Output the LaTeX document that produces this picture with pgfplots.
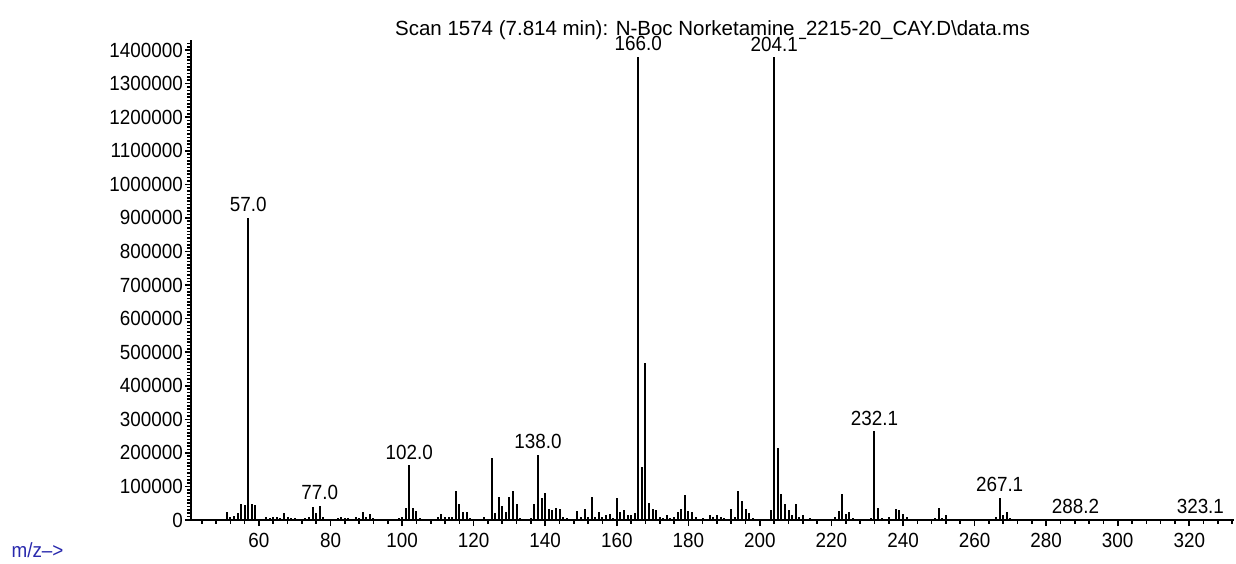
\documentclass[border=0pt]{standalone}
\usepackage{fontspec}
\setmainfont{Liberation Sans}[FakeStretch=0.92]
\newfontfamily\titlefont{Liberation Sans}
\usepackage{pgfplots}
\pgfplotsset{compat=1.18}
\definecolor{mzblue}{rgb}{0.16,0.16,0.68}

\pgfplotstableread{
mz int
51 25000
52 8000
53 13000
54 20000
55 47000
56 44000
57 900000
58 47000
59 45000
62 8000
63 6000
64 10000
65 8000
66 6000
67 20000
68 8000
69 6000
70 6000
73 5000
74 8000
75 38000
76 20000
77 42000
78 8000
82 6000
83 8000
84 6000
85 6000
86 4000
87 8000
88 6000
89 23000
90 10000
91 19000
92 6000
99 5000
100 8000
101 37000
102 163000
103 37000
104 28000
105 6000
107 4000
108 4000
110 8000
111 18000
112 8000
113 8000
114 8000
115 86000
116 47000
117 25000
118 25000
119 6000
123 10000
125 186000
126 20000
127 70000
128 43000
129 25000
130 70000
131 85000
132 47000
133 6000
136 6000
137 47000
138 195000
139 67000
140 80000
141 33000
142 30000
143 37000
144 33000
145 10000
146 6000
149 28000
150 10000
151 33000
152 10000
153 70000
154 10000
155 24000
156 10000
157 14000
158 18000
159 6000
160 67000
161 23000
162 30000
163 14000
164 14000
165 20000
166 1380000
167 157000
168 468000
169 52000
170 33000
171 30000
172 10000
173 6000
174 14000
175 6000
176 10000
177 23000
178 33000
179 75000
180 28000
181 24000
182 8000
184 6000
186 14000
187 8000
188 14000
189 10000
190 6000
192 33000
193 8000
194 86000
195 57000
196 33000
197 20000
198 6000
203 30000
204 1378000
205 214000
206 77000
207 47000
208 30000
209 14000
210 47000
211 8000
212 14000
214 6000
221 10000
222 28000
223 76000
224 18000
225 23000
226 6000
231 6000
232 265000
233 37000
234 6000
236 10000
238 33000
239 30000
240 18000
241 10000
249 6000
250 37000
251 6000
252 14000
266 10000
267 67000
268 14000
269 24000
270 6000
288 2000
323 2000
}\spectrum

\begin{document}
\fontsize{10.25pt}{12pt}\selectfont
\begin{tikzpicture}[font=\fontsize{10.25pt}{12pt}\selectfont]
\useasboundingbox (-95.5pt,-21.5pt) rectangle (522.5pt,260pt);
\begin{axis}[
  at={(0,0)}, anchor=south west,
  scale only axis, width=521.5pt, height=240pt,
  xmin=41, xmax=332.5, ymin=0, ymax=1430000,
  clip=false,
  axis lines=left,
  axis line style={line width=1pt, -},
  tick align=outside,
  tick style={line width=0.8pt, black},
  major tick length=3pt,
  minor tick length=1.8pt,
  xtick={60,80,...,320},
  minor xtick={44,48,...,332},
  ytick={0,100000,...,1400000},
  minor ytick={0,10000,...,1420000},
  scaled y ticks=false,
  /pgf/number format/assume math mode=true,
  yticklabel style={/pgf/number format/fixed, /pgf/number format/1000 sep={}, xshift=2.5pt},
  xlabel={m/z-->},
  xlabel style={at={(axis description cs:-0.1724,-0.0625)}, anchor=west, text=mzblue, inner sep=0pt},
]
\addplot[ycomb, black, line width=1pt, mark=none] table[x=mz, y=int] {\spectrum};
\node[anchor=base, inner sep=0pt, yshift=2.5pt, font=\titlefont] at (rel axis cs:0.5,1)
  {Scan 1574 (7.814 min): N-Boc Norketamine\_2215-20\_CAY.D\textbackslash data.ms};
\foreach \m/\v/\t in {57/900000/57.0, 77/42000/77.0, 102/163000/102.0, 138/195000/138.0, 166/1380000/166.0, 204/1378000/204.1, 232/265000/232.1, 267/67000/267.1, 288.2/2000/288.2, 323.1/2000/323.1}{
  \edef\temp{\noexpand\node[anchor=base, fill=white, inner sep=0.6pt, yshift=3pt] at (axis cs:\m,\v) {\t};}
  \temp
}
\end{axis}
\end{tikzpicture}
\end{document}
